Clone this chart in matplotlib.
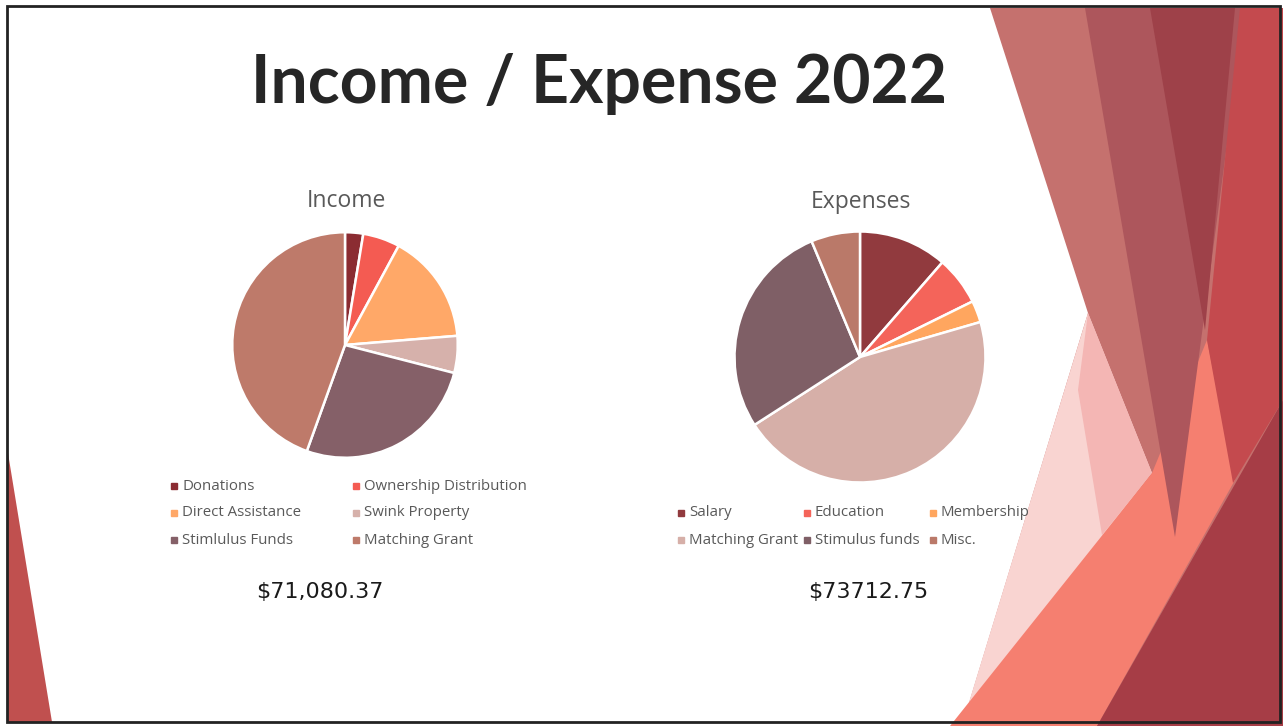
import matplotlib.pyplot as plt
from matplotlib.patches import Polygon, Rectangle

# data
income_labels = ['Donations', 'Ownership Distribution', 'Direct Assistance',
                 'Swink Property', 'Stimlulus Funds', 'Matching Grant']
income_values = [2.6, 5.3, 15.8, 5.3, 26.5, 44.5]
income_colors = ['#8B2C32', '#F45B52', '#FFA868', '#D6B1AB', '#856068', '#BE7A6A']

expense_labels = ['Salary', 'Education', 'Membership',
                  'Matching Grant', 'Stimulus funds', 'Misc.']
expense_values = [11.4, 6.3, 2.8, 45.4, 27.8, 6.3]
expense_colors = ['#913A3E', '#F4645A', '#FFA65F', '#D6AFA8', '#7F5F66', '#BA7969']

income_total = '$71,080.37'
expense_total = '$73712.75'

W, H = 1283, 726
fig = plt.figure(figsize=(W / 100, H / 100), dpi=100)
fig.patch.set_facecolor('white')

# background layer in pixel coordinates
bg = fig.add_axes([0, 0, 1, 1])
bg.set_xlim(0, W)
bg.set_ylim(H, 0)
bg.axis('off')

shapes = [
    ([(990, 8), (1283, 8), (1283, 726), (962, 726), (1088, 313)], '#C5716E'),
    ([(1088, 313), (1152, 473), (966, 712)], '#F9D4D1'),
    ([(1088, 313), (1152, 473), (1102, 535), (1078, 390)], '#F4B6B4'),
    ([(950, 726), (1097, 726), (1235, 480), (1207, 340), (1152, 473)], '#F57F70'),
    ([(1085, 8), (1245, 8), (1175, 537)], '#AD565C'),
    ([(1150, 8), (1235, 8), (1205, 330)], '#9E4149'),
    ([(1240, 8), (1283, 8), (1283, 400), (1233, 483), (1207, 340)], '#C44A4E'),
    ([(1097, 726), (1283, 400), (1283, 726)], '#A63D46'),
    ([(7, 447), (7, 722), (52, 722)], '#C0504F'),
]
for pts, col in shapes:
    bg.add_patch(Polygon(pts, closed=True, facecolor=col, edgecolor='none'))
bg.add_patch(Rectangle((7, 6), 1273, 716, fill=False, edgecolor='#222222', linewidth=2))

bg.text(599, 84, 'Income / Expense 2022', fontsize=47.5, fontweight='bold',
        family='Lato', color='#262626', ha='center', va='center')
bg.text(346, 201, 'Income', fontsize=16.5, family='Open Sans', color='#595959',
        ha='center', va='center')
bg.text(861, 202, 'Expenses', fontsize=16.5, family='Open Sans', color='#595959',
        ha='center', va='center')
bg.text(320, 592, income_total, fontsize=16, family='DejaVu Sans', color='#1a1a1a',
        ha='center', va='center')
bg.text(868, 592, expense_total, fontsize=16, family='DejaVu Sans', color='#1a1a1a',
        ha='center', va='center')


def draw_pie(cx, cy, r, values, colors):
    ax = fig.add_axes([(cx - r) / W, (H - cy - r) / H, 2 * r / W, 2 * r / H])
    ax.pie(values, colors=colors, startangle=90, counterclock=False,
           wedgeprops=dict(edgecolor='white', linewidth=1.8))
    ax.set_xlim(-1.02, 1.02)
    ax.set_ylim(-1.02, 1.02)
    ax.axis('off')
    return ax


draw_pie(345, 345, 115, income_values, income_colors)
draw_pie(860, 357, 128, expense_values, expense_colors)


def draw_legend(labels, colors, col_x, row_y, ncol):
    for i, (lab, col) in enumerate(zip(labels, colors)):
        x = col_x[i % ncol]
        y = row_y[i // ncol]
        bg.plot(x, y, marker='s', markersize=4.5, color=col, linestyle='none')
        bg.text(x + 8, y, lab, fontsize=10.8, family='Open Sans', color='#595959',
                ha='left', va='center')


draw_legend(income_labels, income_colors, [174, 356], [486, 513, 540], 2)
draw_legend(expense_labels, expense_colors, [681, 807, 933], [513, 540], 3)

plt.savefig('out.png', dpi=100)
